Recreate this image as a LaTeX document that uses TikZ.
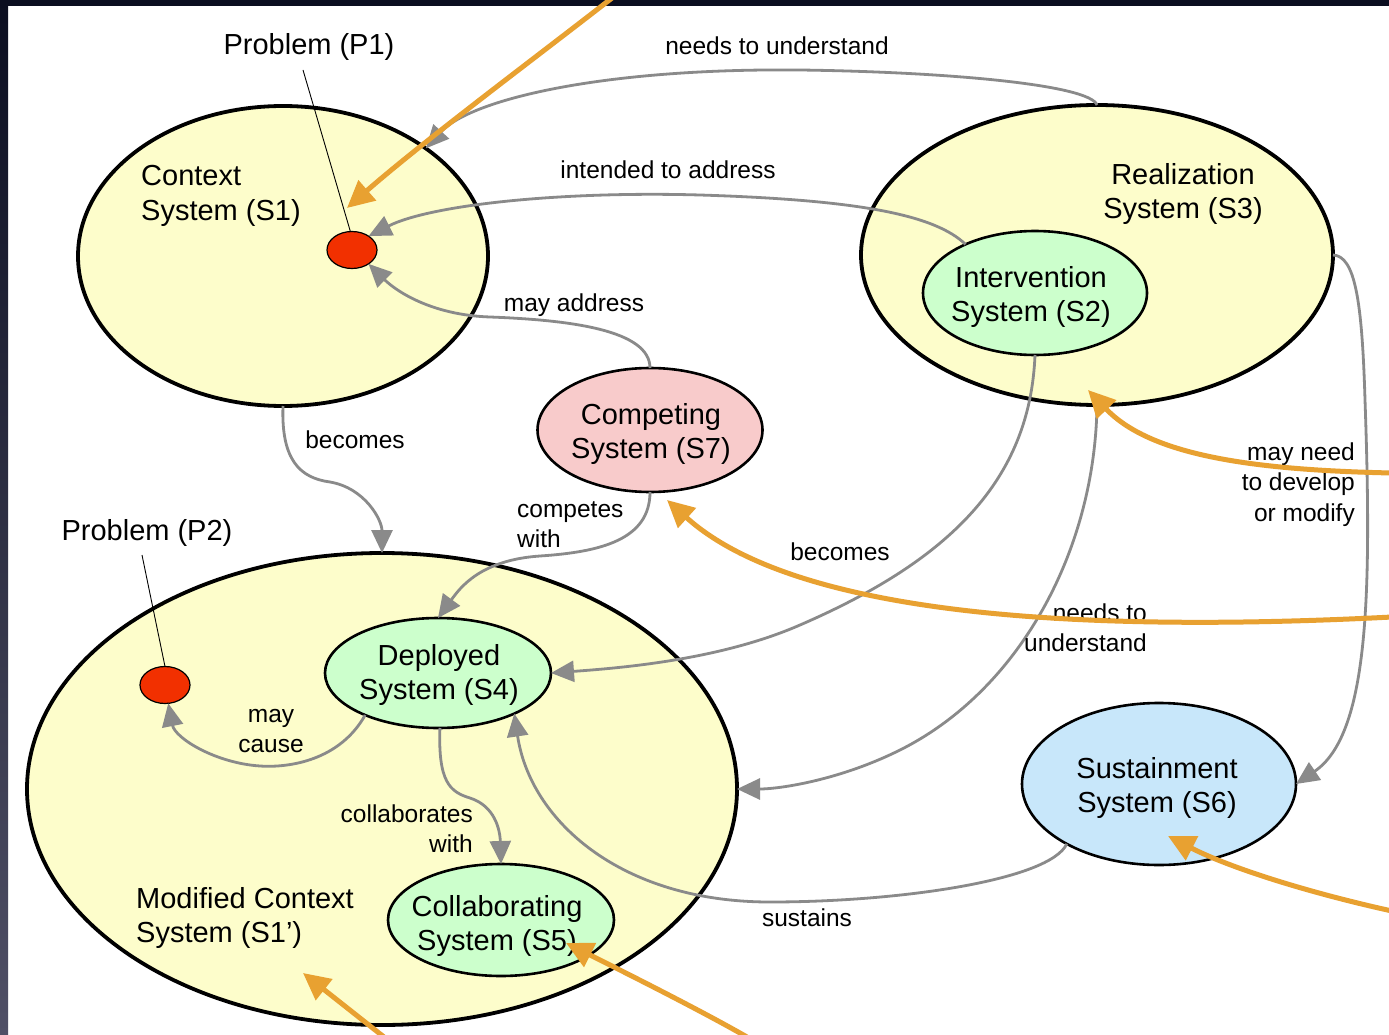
\documentclass[tikz,border=0pt]{standalone}
\usepackage{fontspec}
\setmainfont{Liberation Sans}
\usetikzlibrary{arrows.meta, shapes.geometric}
\definecolor{sysyellow}{HTML}{FDFDCB}
\definecolor{sysgreen}{HTML}{CCFFCC}
\definecolor{syspink}{HTML}{F8CBCB}
\definecolor{sysblue}{HTML}{C8E7FA}
\definecolor{probred}{HTML}{F23000}
\definecolor{linkgrey}{HTML}{8A8A8A}
\definecolor{hiorange}{HTML}{E8A131}
\definecolor{frametop}{HTML}{0B0E20}
\definecolor{framebot}{HTML}{505066}
\newcommand{\mlc}[1]{\begin{tabular}[t]{@{}c@{}}#1\end{tabular}}
\newcommand{\mll}[1]{\begin{tabular}[t]{@{}l@{}}#1\end{tabular}}
\newcommand{\mlr}[1]{\begin{tabular}[t]{@{}r@{}}#1\end{tabular}}
\begin{document}
\begin{tikzpicture}[x=1pt,y=-1pt,
  sysbig/.style={ellipse, draw=black, line width=3.8pt, fill=sysyellow, inner sep=0pt, outer sep=0pt},
  syssmall/.style={ellipse, draw=black, line width=2.6pt, inner sep=0pt, outer sep=0pt},
  prob/.style={ellipse, draw=black, line width=1.2pt, fill=probred, minimum width=50pt, minimum height=37pt, inner sep=0pt, outer sep=0pt},
  mainlbl/.style={font=\fontsize{29}{34}\selectfont, inner sep=0pt, anchor=base},
  edgelbl/.style={font=\fontsize{24.5}{30.5}\selectfont, inner sep=0pt, anchor=base},
  link/.style={draw=linkgrey, line width=2.8pt, -{Triangle[length=23pt,width=21pt]}},
  hilite/.style={draw=hiorange, line width=5pt, -{Triangle[length=27pt,width=26pt]}},
  leader/.style={draw=black, line width=0.9pt},
]
\useasboundingbox (0,0) rectangle (1389,1035);
\clip (0,0) rectangle (1389,1035);
\fill[white] (0,0) rectangle (1389,1035);
\shade[top color=frametop, bottom color=framebot] (0,0) rectangle (8,1035);
\fill[frametop] (0,0) rectangle (1389,6);

% systems
\node[sysbig, minimum width=410pt, minimum height=300pt] (S1) at (283,256) {};
\node[sysbig, minimum width=472pt, minimum height=300pt] (S3) at (1097,255) {};
\node[sysbig, minimum width=710pt, minimum height=472pt] (S1p) at (382,789) {};
\node[syssmall, fill=sysgreen, minimum width=224pt, minimum height=124pt] (S2) at (1035,293) {};
\node[syssmall, fill=syspink, minimum width=225pt, minimum height=124pt] (S7) at (650,430) {};
\node[syssmall, fill=sysgreen, minimum width=226pt, minimum height=110pt] (S4) at (438,673) {};
\node[syssmall, fill=sysgreen, minimum width=226pt, minimum height=112pt] (S5) at (501,920) {};
\node[syssmall, fill=sysblue, minimum width=274pt, minimum height=162pt] (S6) at (1159,784) {};
\node[prob] (P1) at (352,250) {};
\node[prob] (P2) at (165,685) {};

% system labels
\node[mainlbl] (tP1) at (309,55) {Problem (P1)};
\node[mainlbl] (tP2) at (147,540) {Problem (P2)};
\node[mainlbl, anchor=base west] (tS1) at (141,186) {\mll{Context\\System (S1)}};
\node[mainlbl] (tS3) at (1183,185) {\mlc{Realization\\System (S3)}};
\node[mainlbl] (tS2) at (1031,287) {\mlc{Intervention\\System (S2)}};
\node[mainlbl] (tS7) at (651,424) {\mlc{Competing\\System (S7)}};
\node[mainlbl] (tS4) at (439,665) {\mlc{Deployed\\System (S4)}};
\node[mainlbl] (tS5) at (497,916) {\mlc{Collaborating\\System (S5)}};
\node[mainlbl] (tS6) at (1157,778) {\mlc{Sustainment\\System (S6)}};
\node[mainlbl, anchor=base west] (tS1p) at (136,908) {\mll{Modified Context\\System (S1')}};

% leaders
\coordinate (lP1) at (303,70);
\coordinate (lP2) at (142,555);
\draw[leader] (lP1) -- (P1.95);
\draw[leader] (lP2) -- (P2.north);

% grey connectors
\draw[link] (S3.north) .. controls (1090,85) and (950,72) .. (800,70) .. controls (600,68) and (470,100) .. (S1.37);
\draw[link] (S2.145) .. controls (935,215) and (860,200) .. (700,195) .. controls (560,191) and (430,205) .. (P1.40);
\draw[link] (S7.north) .. controls (650,330) and (570,320) .. (490,317) .. controls (430,315) and (395,290) .. (P1.-40);
\draw[link] (S1.south) .. controls (281,460) and (300,478) .. (330,482) .. controls (365,488) and (382,520) .. (S1p.north);
\draw[link] (S7.south) .. controls (650,540) and (600,552) .. (540,556) .. controls (480,560) and (460,588) .. (S4.north);
\draw[link] (S2.south) .. controls (1030,480) and (950,560) .. (800,625) .. controls (720,660) and (620,668) .. (S4.east);
\draw[link] (S3.south) .. controls (1095,550) and (1020,690) .. (900,750) .. controls (840,780) and (780,789) .. (S1p.east);
\draw[link] (S3.east) .. controls (1355,256) and (1362,300) .. (1365,400) .. controls (1372,600) and (1368,735) .. (S6.east);
\draw[link] (S6.-147) .. controls (1050,880) and (900,902) .. (770,902) .. controls (620,902) and (530,820) .. (S4.-28);
\draw[link] (S4.-150) .. controls (340,760) and (290,768) .. (260,766) .. controls (215,763) and (175,738) .. (P2.-80);
\draw[link] (S4.-88) .. controls (438,782) and (450,792) .. (470,798) .. controls (495,806) and (500,830) .. (S5.north);

% connector labels
\node[edgelbl] (lNeeds) at (777,55) {needs to understand};
\node[edgelbl] (lIntended) at (668,179) {intended to address};
\node[edgelbl] (lMayAddr) at (574,311) {may address};
\node[edgelbl] (lBecomesA) at (355,448) {becomes};
\node[edgelbl, anchor=base west] (lCompetes) at (517,517) {\mll{competes\\with}};
\node[edgelbl] (lBecomesB) at (840,560) {becomes};
\node[edgelbl, anchor=base east] (lNeedsB) at (1147,621) {\mlr{needs to\\understand}};
\node[edgelbl, anchor=base east] (lMayNeed) at (1355,460) {\mlr{may need\\to develop\\or modify}};
\node[edgelbl] (lSustains) at (807,926) {sustains};
\node[edgelbl] (lMayCause) at (271,722) {\mlc{may\\cause}};
\node[edgelbl, anchor=base east] (lCollab) at (473,822) {\mlr{collaborates\\with}};

% orange highlight arrows
\coordinate (o1s) at (612,-2);  \coordinate (o1e) at (347,208);
\coordinate (o2s) at (1392,473); \coordinate (o2e) at (1088,390);
\coordinate (o3s) at (1392,617); \coordinate (o3e) at (667,500);
\coordinate (o4s) at (1392,911); \coordinate (o4e) at (1168,836);
\coordinate (o5s) at (747,1037); \coordinate (o5e) at (566,943);
\coordinate (o6s) at (384,1037); \coordinate (o6e) at (303,973);
\draw[hilite] (o1s) .. controls (535,58) and (425,140) .. (o1e);
\draw[hilite] (o2s) .. controls (1250,470) and (1150,455) .. (o2e);
\draw[hilite] (o3s) .. controls (1100,632) and (800,620) .. (o3e);
\draw[hilite] (o4s) .. controls (1310,893) and (1230,868) .. (o4e);
\draw[hilite] (o5s) .. controls (700,1010) and (620,970) .. (o5e);
\draw[hilite] (o6s) -- (o6e);
\end{tikzpicture}
\end{document}
